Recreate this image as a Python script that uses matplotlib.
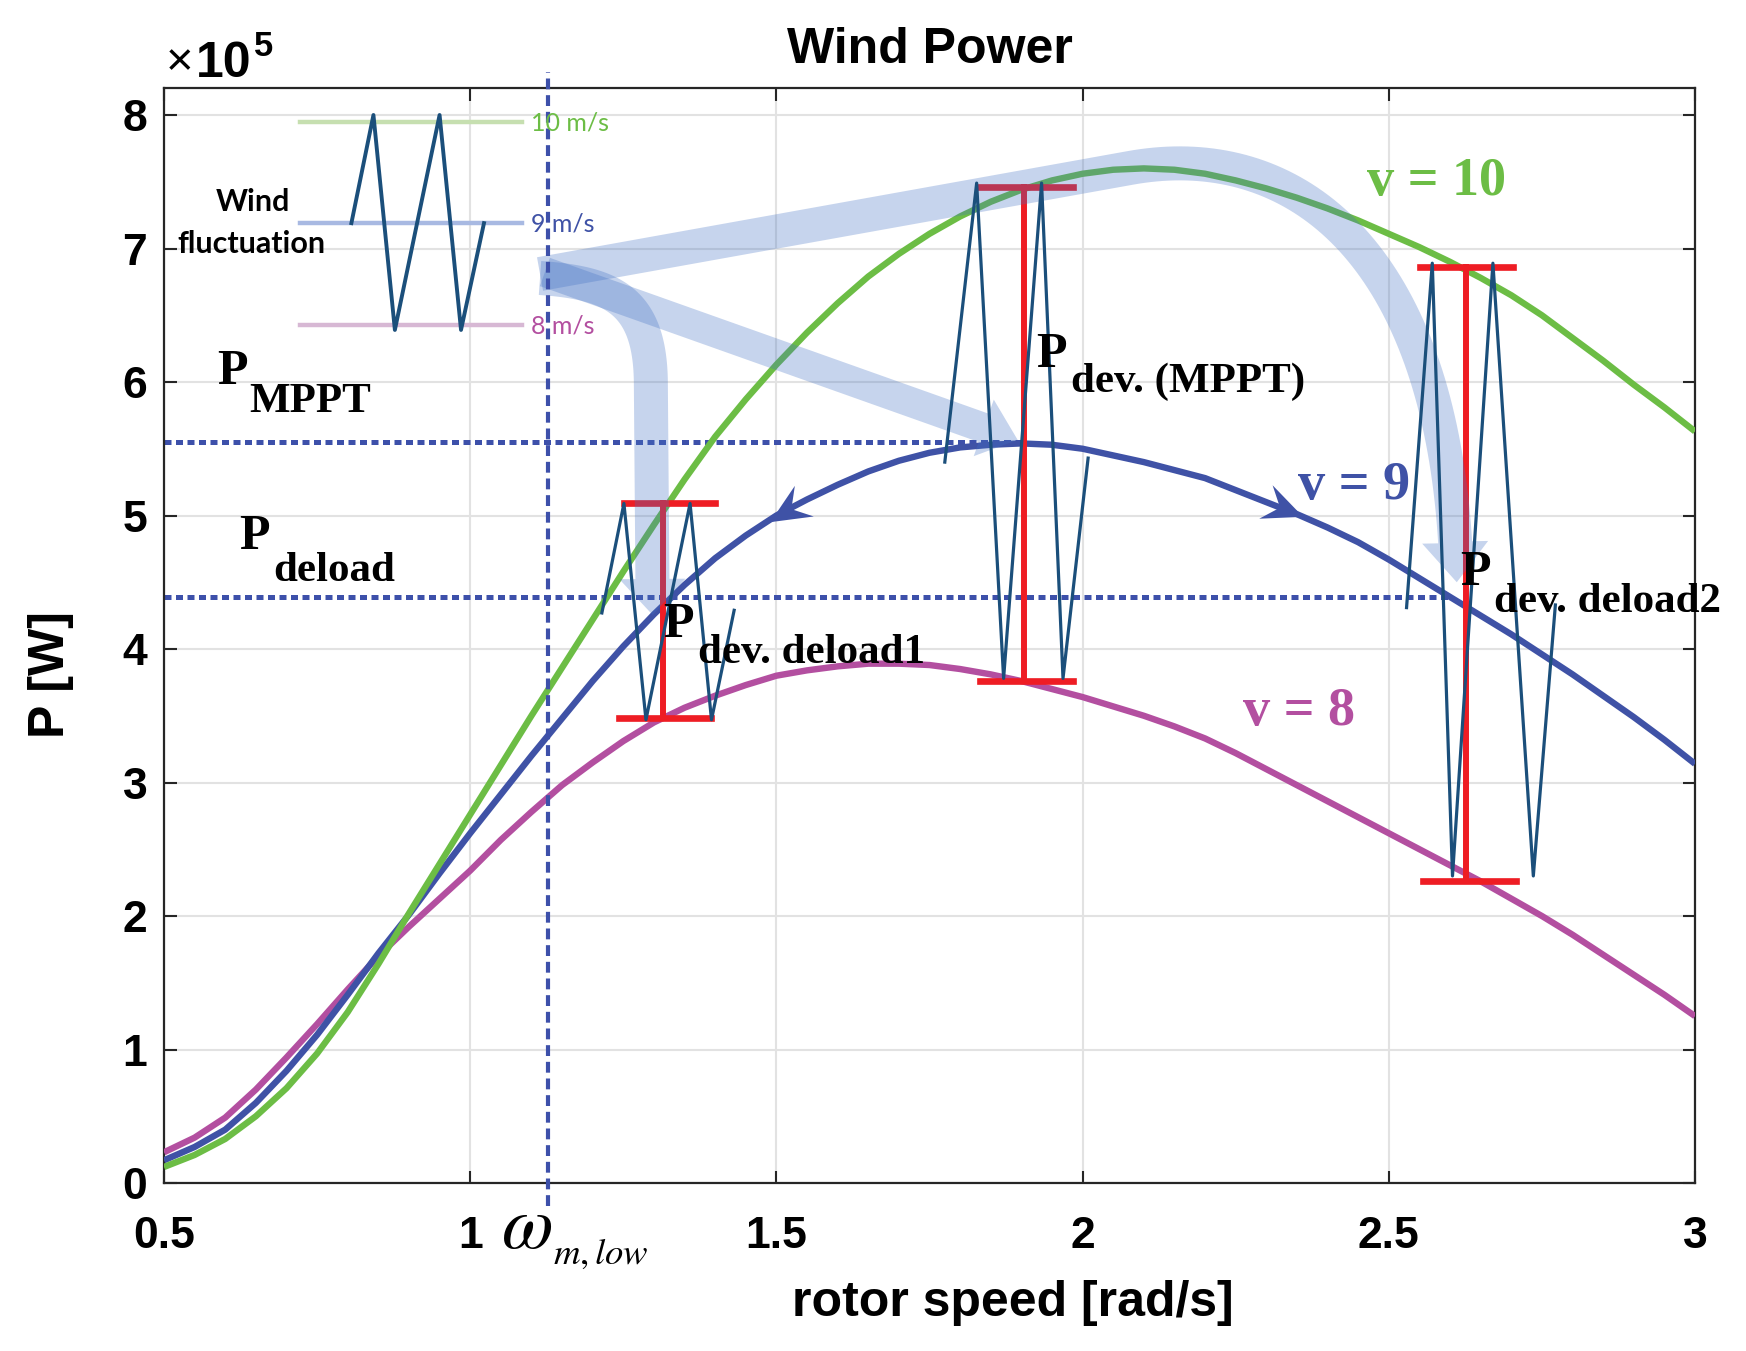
import numpy as np
import matplotlib
matplotlib.use('Agg')
import matplotlib.pyplot as plt
from matplotlib.patches import Polygon
from math import comb

plt.rcParams['font.family'] = ['Liberation Sans', 'DejaVu Sans']

# ---- power curves (P in 1e5 W) ---------------------------------------------
omega = [0.50, 0.55, 0.60, 0.65, 0.70, 0.75, 0.80, 0.85, 0.90, 0.95,
         1.00, 1.05, 1.10, 1.15, 1.20, 1.25, 1.30, 1.35, 1.40, 1.45,
         1.50, 1.55, 1.60, 1.65, 1.70, 1.75, 1.80, 1.85, 1.90, 1.95,
         2.00, 2.05, 2.10, 2.15, 2.20, 2.25, 2.30, 2.35, 2.40, 2.45,
         2.50, 2.55, 2.60, 2.65, 2.70, 2.75, 2.80, 2.85, 2.90, 2.95, 3.00]
p_v10 = [0.12, 0.21, 0.33, 0.50, 0.71, 0.97, 1.28, 1.64, 2.02, 2.39,
         2.76, 3.13, 3.50, 3.86, 4.22, 4.58, 4.93, 5.27, 5.59, 5.87,
         6.13, 6.37, 6.59, 6.79, 6.96, 7.11, 7.24, 7.35, 7.44, 7.51,
         7.56, 7.59, 7.60, 7.59, 7.56, 7.51, 7.45, 7.38, 7.30, 7.21,
         7.11, 7.01, 6.90, 6.78, 6.65, 6.50, 6.33, 6.16, 5.98, 5.81, 5.63]
p_v9 = [0.17, 0.27, 0.40, 0.60, 0.84, 1.11, 1.41, 1.72, 2.01, 2.32,
        2.62, 2.91, 3.20, 3.48, 3.76, 4.02, 4.26, 4.48, 4.68, 4.85,
        5.00, 5.12, 5.23, 5.33, 5.41, 5.47, 5.51, 5.53, 5.54, 5.53,
        5.50, 5.45, 5.40, 5.34, 5.28, 5.19, 5.10, 5.01, 4.91, 4.80,
        4.67, 4.53, 4.39, 4.25, 4.11, 3.96, 3.81, 3.65, 3.49, 3.32, 3.14]
p_v8 = [0.23, 0.34, 0.49, 0.70, 0.94, 1.19, 1.45, 1.70, 1.92, 2.13,
        2.34, 2.57, 2.78, 2.98, 3.15, 3.31, 3.45, 3.56, 3.65, 3.73,
        3.80, 3.84, 3.87, 3.89, 3.89, 3.88, 3.85, 3.81, 3.76, 3.70,
        3.64, 3.57, 3.50, 3.42, 3.33, 3.22, 3.10, 2.98, 2.86, 2.74,
        2.62, 2.50, 2.38, 2.26, 2.13, 2.00, 1.86, 1.71, 1.56, 1.41, 1.25]

x_ticks = [0.5, 1, 1.5, 2, 2.5, 3]
x_ticklabels = ['0.5', '1', '1.5', '2', '2.5', '3']
y_ticks = [0, 1, 2, 3, 4, 5, 6, 7, 8]

# ---- annotation geometry (data units) --------------------------------------
p_mppt, p_deload = 5.55, 4.39
mppt_end, deload_end = 1.905, 2.60
omega_low = 1.127

# wind fluctuation zig-zags
zig1_x = [1.215, 1.251, 1.287, 1.359, 1.394, 1.431]
zig1_y = [4.27, 5.09, 3.47, 5.09, 3.47, 4.29]
zig2_x = [1.775, 1.827, 1.871, 1.933, 1.968, 2.009]
zig2_y = [5.40, 7.49, 3.78, 7.49, 3.78, 5.43]
zig3_x = [2.529, 2.571, 2.604, 2.670, 2.736, 2.772]
zig3_y = [4.31, 6.89, 2.30, 6.89, 2.30, 4.33]

# red deviation bars: centre x, top (x0, x1, y), bottom (x0, x1, y)
bar_x = [1.315, 1.904, 2.626]
bar_top = [(1.251, 1.400, 5.09), (1.832, 1.984, 7.46), (2.551, 2.703, 6.86)]
bar_bot = [(1.243, 1.393, 3.48), (1.832, 1.984, 3.76), (2.556, 2.708, 2.26)]

# legend inset (wind speed levels)
leg_x = [0.722, 1.084]
leg_y = [7.95, 7.19, 6.43]
leg_zig_x = [0.806, 0.842, 0.877, 0.950, 0.985, 1.0225]
leg_zig_y = [7.19, 8.00, 6.39, 8.00, 6.39, 7.19]
leg_labels = ['10 m/s', '9 m/s', '8 m/s']

# direction marks on v = 9: (tail, tip)
dir_marks = [((1.55, 5.12), (1.49, 4.95)), ((2.30, 5.10), (2.36, 4.99))]

# big translucent arrows: list of segments (2 pts = line, 4 pts = cubic)
arrow_deload2 = [[(1.114, 6.809), (2.077, 7.603)],
                 [(2.077, 7.603), (2.355, 7.835), (2.600, 6.914), (2.611, 4.50)]]
arrow_mppt = [[(1.122, 6.824), (1.894, 5.566)]]
arrow_deload1 = [[(1.114, 6.779), (1.2315, 6.742), (1.295, 6.614), (1.295, 5.978)],
                 [(1.295, 5.978), (1.298, 4.255)]]

GREEN = '#6cbd45'
BLUE = '#3f52a6'
MAGENTA = '#b34fa0'
RED = '#ee1d24'
ZIG = '#1b4f7b'
DOT = '#3d50aa'

fig = plt.figure(figsize=(17.46, 13.51), dpi=100)
ax = fig.add_axes([0.09393, 0.12435, 0.87686, 0.81029])
ax.set_xlim(0.5, 3)
ax.set_ylim(0, 8.2)


def bezier(ctrl, n=60):
    ctrl = np.asarray(ctrl, float)
    k = len(ctrl) - 1
    t = np.linspace(0, 1, n)[:, None]
    return sum(comb(k, i) * t**i * (1 - t)**(k - i) * ctrl[i] for i in range(k + 1))


def fat_arrow(segments, width, head_w, head_len, **kw):
    pts = []
    for seg in segments:
        disp = ax.transData.transform(np.asarray(seg, float))
        b = bezier(disp, 2 if len(seg) == 2 else 80)
        pts.append(b if not pts else b[1:])
    P = np.vstack(pts)
    s = np.concatenate([[0], np.cumsum(np.hypot(*np.diff(P, axis=0).T))])
    s_cut = s[-1] - head_len
    base = np.array([np.interp(s_cut, s, P[:, 0]), np.interp(s_cut, s, P[:, 1])])
    body = np.vstack([P[s < s_cut], base])
    if len(body) == 2:
        body = np.linspace(body[0], body[1], 10)
    d = np.gradient(body, axis=0)
    d /= np.hypot(*d.T)[:, None]
    nrm = np.stack([-d[:, 1], d[:, 0]], axis=1)
    tip = P[-1]
    dh = (tip - base) / np.linalg.norm(tip - base)
    nh = np.array([-dh[1], dh[0]])
    poly = np.vstack([body + nrm * width / 2,
                      base + nh * head_w / 2, tip, base - nh * head_w / 2,
                      (body - nrm * width / 2)[::-1]])
    ax.add_patch(Polygon(ax.transData.inverted().transform(poly), closed=True, lw=0, **kw))


def stealth(tail, tip, length=40, half_w=18, **kw):
    a, b = ax.transData.transform([tail, tip])
    u = (b - a) / np.linalg.norm(b - a)
    n = np.array([-u[1], u[0]])
    poly = [b, b - length * u + half_w * n, b - 0.62 * length * u, b - length * u - half_w * n]
    ax.add_patch(Polygon(ax.transData.inverted().transform(poly), closed=True, lw=0, **kw))


# reference levels
ax.plot([0.5, mppt_end], [p_mppt, p_mppt], color=DOT, lw=3.6, ls=(0, (1.4, 0.9)), zorder=2)
ax.plot([0.5, deload_end], [p_deload, p_deload], color=DOT, lw=3.6, ls=(0, (1.4, 0.9)), zorder=2)

# power curves
for p, c in [(p_v8, MAGENTA), (p_v9, BLUE), (p_v10, GREEN)]:
    ax.plot(omega, p, color=c, lw=4.6, solid_joinstyle='round', solid_capstyle='butt', zorder=3)

for tail, tip in dir_marks:
    stealth(tail, tip, facecolor=BLUE, zorder=3.5)

# red deviation bars
for xc, (tx0, tx1, ty), (bx0, bx1, by) in zip(bar_x, bar_top, bar_bot):
    ax.plot([xc, xc], [by, ty], color=RED, lw=4.3, zorder=4)
    ax.plot([tx0, tx1], [ty, ty], color=RED, lw=4.8, zorder=4)
    ax.plot([bx0, bx1], [by, by], color=RED, lw=4.8, zorder=4)

# translucent transition arrows
arrow_kw = dict(facecolor='#4472c4', alpha=0.30, zorder=5)
fat_arrow(arrow_deload2, 34, 66, 40, **arrow_kw)
fat_arrow(arrow_mppt, 30, 60, 36, **arrow_kw)
fat_arrow(arrow_deload1, 34, 66, 36, **arrow_kw)

# omega_m,low marker
ax.plot([omega_low, omega_low], [-0.17, 8.32], color=DOT, lw=3, ls=(0, (2.6, 1.4)),
        clip_on=False, zorder=6)

# zig-zags
for zx, zy in [(zig1_x, zig1_y), (zig2_x, zig2_y), (zig3_x, zig3_y)]:
    ax.plot(zx, zy, color=ZIG, lw=2.3, zorder=7)

# legend inset
for yy, c in zip(leg_y, ['#c6dfb0', '#a8b9e2', '#d7b8d4']):
    ax.plot(leg_x, [yy, yy], color=c, lw=3.2, zorder=6.5)
ax.plot(leg_zig_x, leg_zig_y, color=ZIG, lw=2.8, zorder=7)
for lab, yy, c in zip(leg_labels, [7.94, 7.18, 6.42], [GREEN, BLUE, MAGENTA]):
    ax.text(1.100, yy, lab, color=c, fontsize=18, family='Lato', va='center', ha='left', zorder=8)
ax.text(0.645, 7.35, 'Wind', fontsize=22, family='Lato', fontweight='bold', ha='center', va='center')
ax.text(0.643, 7.03, 'fluctuation', fontsize=22, family='Lato', fontweight='bold', ha='center', va='center')

# serif annotations: (x_P, y_P, x_sub, y_sub, subscript)
serif = dict(family='Liberation Serif', fontweight='bold', color='black', va='baseline', zorder=8)
for xp, yp, xs, ys, sub in [(0.587, 5.985, 0.640, 5.775, 'MPPT'),
                            (0.6225, 4.75, 0.678, 4.51, 'deload'),
                            (1.315, 4.09, 1.372, 3.895, 'dev. deload1'),
                            (1.924, 6.11, 1.981, 5.925, 'dev. (MPPT)'),
                            (2.616, 4.48, 2.672, 4.28, 'dev. deload2')]:
    ax.text(xp, yp, 'P', fontsize=36, **serif)
    ax.text(xs, ys, sub, fontsize=31, **serif)

for xv, yv, lab, c in [(2.464, 7.40, 'v = 10', GREEN), (2.352, 5.12, 'v = 9', BLUE),
                       (2.262, 3.43, 'v = 8', MAGENTA)]:
    ax.text(xv, yv, lab, fontsize=39, family='Liberation Serif', fontweight='bold',
            color=c, va='baseline', ha='left', zorder=8)

ax.text(1.050, -0.49, r'$\omega_{_{m,low}}$', fontsize=54, math_fontfamily='stix', va='baseline')

# axes styling
ax.set_xticks(x_ticks)
ax.set_xticklabels(x_ticklabels)
ax.set_yticks(y_ticks)
ax.grid(True, color='#e2e2e2', lw=1.5)
ax.set_axisbelow(True)
ax.tick_params(direction='in', length=9, width=1.5, top=True, right=True,
               labelsize=32, colors='#262626', labelcolor='black')
ax.tick_params(axis='x', pad=24)
ax.tick_params(axis='y', pad=12)
for lab in ax.get_xticklabels() + ax.get_yticklabels():
    lab.set_fontweight('bold')
for sp in ax.spines.values():
    sp.set_color('#262626')
    sp.set_linewidth(1.6)

fig.text(930 / 1746, 1 - 50 / 1351, 'Wind Power', fontsize=36, fontweight='bold', ha='center', va='center')
fig.text(1013 / 1746, 1 - 1303 / 1351, 'rotor speed [rad/s]', fontsize=36, fontweight='bold',
         ha='center', va='center')
fig.text(51 / 1746, 1 - 675 / 1351, 'P [W]', fontsize=36, fontweight='bold', rotation=90,
         ha='center', va='center')
fig.text(180 / 1746, 1 - 63 / 1351, '\u00d7', fontsize=34, ha='center', va='center')
fig.text(196 / 1746, 1 - 77 / 1351, '10', fontsize=36, fontweight='bold', ha='left', va='baseline')
fig.text(254 / 1746, 1 - 56 / 1351, '5', fontsize=25, fontweight='bold', ha='left', va='baseline')

fig.savefig('out.png', dpi=100)
